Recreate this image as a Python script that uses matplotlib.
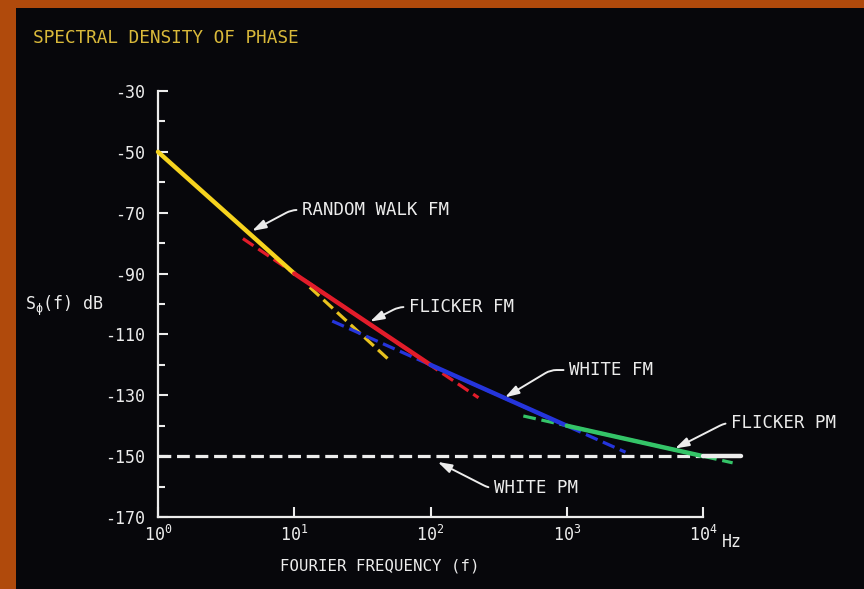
import matplotlib
matplotlib.use("Agg")
import matplotlib.pyplot as plt
from matplotlib.patches import Rectangle

# ---- data ----
title = "SPECTRAL DENSITY OF PHASE"
ytick_vals = [-30, -50, -70, -90, -110, -130, -150, -170]
ytick_minor = [-40, -60, -80, -100, -120, -140, -160]
xtick_vals = [1, 10, 100, 1000, 10000]
xtick_exps = ["0", "1", "2", "3", "4"]

# solid (dominant) segments: frequency (Hz), level (dB)
rw_solid_f = [1, 10];        rw_solid_db = [-50, -90]
ff_solid_f = [10, 100];      ff_solid_db = [-90, -120]
wf_solid_f = [100, 1000];    wf_solid_db = [-120, -140]
fp_solid_f = [1000, 10000];  fp_solid_db = [-140, -150]
wp_solid_f = [10000, 19000]; wp_solid_db = [-150, -150]

# dashed asymptote extensions
rw_dash_f = [13, 50];      rw_dash_db = [-94.5, -118.5]
ff_dash_f = [4.2, 225];    ff_dash_db = [-78.5, -130.8]
wf_dash_f = [19, 2700];    wf_dash_db = [-105.6, -148.7]
fp_dash_f = [480, 16500];  fp_dash_db = [-136.8, -152.2]
wp_dash_f = [1, 9500];     wp_dash_db = [-150, -150]

ann_labels = ["RANDOM WALK FM", "FLICKER FM", "WHITE FM", "FLICKER PM", "WHITE PM"]
ann_tip_f = [4.9, 36, 352, 6230, 113]
ann_tip_db = [-76.0, -105.8, -130.7, -147.5, -151.9]
ann_text_f = [11.4, 69.5, 1040, 16060, 292]
ann_text_db = [-69.1, -101.0, -121.7, -139.1, -160.5]
ann_angle = [28, 27, 31, 27, -27]

# ---- style ----
BG = "#07070b"
ORANGE = "#b04a0c"
WHITE = "#ececec"
YELLOW = "#f6d31e"
RED = "#e21c2a"
BLUE = "#2535dc"
GREEN = "#34c468"
MONO = "DejaVu Sans Mono"

fig = plt.figure(figsize=(8.64, 5.89), dpi=100, facecolor=ORANGE)
fig.patches.append(Rectangle((16 / 864, 0), 1, 1 - 8 / 589, transform=fig.transFigure,
                             facecolor=BG, edgecolor="none", zorder=-10))

ax = fig.add_axes([158 / 864, (589 - 517) / 589, 545 / 864, 426 / 589])
ax.set_zorder(2)
ax.set_facecolor("none")
ax.set_xscale("log")
ax.set_xlim(1, 10000)
ax.set_ylim(-170, -30)

for s in ["top", "right"]:
    ax.spines[s].set_visible(False)
for s in ["left", "bottom"]:
    ax.spines[s].set_color(WHITE)
    ax.spines[s].set_linewidth(1.6)

ax.set_yticks(ytick_vals)
ax.set_yticklabels([str(v) for v in ytick_vals], family=MONO, fontsize=12, color=WHITE)
ax.set_yticks(ytick_minor, minor=True)
ax.set_xticks(xtick_vals)
ax.set_xticklabels([r"10$^{\mathregular{%s}}$" % e for e in xtick_exps],
                   family=MONO, fontsize=12, color=WHITE)
ax.xaxis.set_minor_locator(matplotlib.ticker.NullLocator())
ax.tick_params(axis="y", which="major", direction="in", length=7, width=1.5, color=WHITE, pad=9)
ax.tick_params(axis="y", which="minor", direction="in", length=5, width=1.5, color=WHITE)
ax.tick_params(axis="x", which="major", direction="in", length=7, width=1.5, color=WHITE, pad=6)

# dashed asymptotes
dash_kw = dict(lw=2.3, dashes=(4, 1.8), solid_capstyle="butt", clip_on=False, zorder=3)
ax.plot(wp_dash_f, wp_dash_db, color=WHITE, **dash_kw)
ax.plot(rw_dash_f, rw_dash_db, color="#e8c21e", **dash_kw)
ax.plot(ff_dash_f, ff_dash_db, color=RED, **dash_kw)
ax.plot(wf_dash_f, wf_dash_db, color=BLUE, **dash_kw)
ax.plot(fp_dash_f, fp_dash_db, color=GREEN, **dash_kw)

# solid segments
sol_kw = dict(lw=3.2, solid_capstyle="round", clip_on=False, zorder=4)
ax.plot(rw_solid_f, rw_solid_db, color=YELLOW, **sol_kw)
ax.plot(ff_solid_f, ff_solid_db, color=RED, **sol_kw)
ax.plot(wf_solid_f, wf_solid_db, color=BLUE, **sol_kw)
ax.plot(fp_solid_f, fp_solid_db, color=GREEN, **sol_kw)
ax.plot(wp_solid_f, wp_solid_db, color=WHITE, **sol_kw)

for lab, tf, tdb, xf, xdb, ang in zip(ann_labels, ann_tip_f, ann_tip_db,
                                      ann_text_f, ann_text_db, ann_angle):
    ax.annotate(lab, xy=(tf, tdb), xytext=(xf, xdb), textcoords="data",
                ha="left", va="center", family=MONO, fontsize=12.5, color=WHITE,
                annotation_clip=False, zorder=6,
                arrowprops=dict(arrowstyle="-|>,head_length=0.7,head_width=0.22",
                                connectionstyle="angle,angleA=0,angleB=%d,rad=6" % ang,
                                color=WHITE, lw=1.4, shrinkA=2, shrinkB=0,
                                mutation_scale=12))

fig.text(33 / 864, 1 - 38 / 589, title, family=MONO, fontsize=12.8, color="#d9b93a",
         ha="left", va="center")
fig.text(25 / 864, 1 - 306 / 589, r"S$_{\mathregular{\phi}}$(f) dB", family=MONO,
         fontsize=12, color=WHITE, ha="left", va="center")
fig.text(380 / 864, 1 - 566 / 589, "FOURIER FREQUENCY (f)", family=MONO, fontsize=11.3,
         color=WHITE, ha="center", va="center")
fig.text(722 / 864, 1 - 542 / 589, "Hz", family=MONO, fontsize=12, color=WHITE,
         ha="left", va="center")

fig.savefig("out.png", dpi=100, facecolor=fig.get_facecolor())
